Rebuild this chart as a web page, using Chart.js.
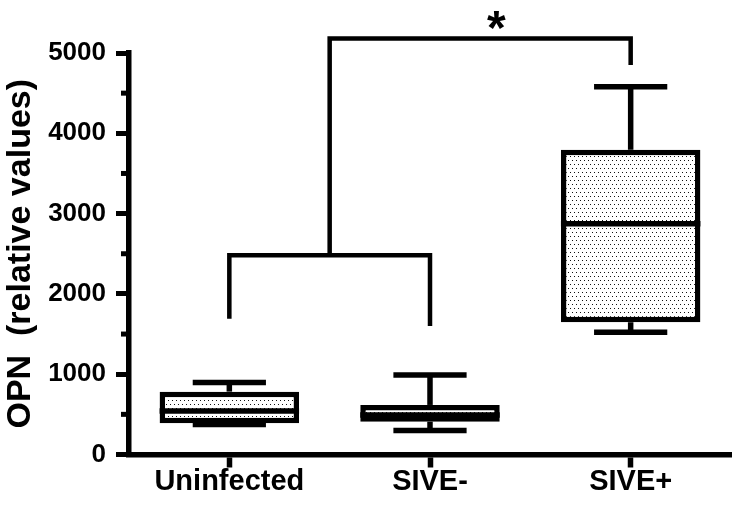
<!DOCTYPE html>
<html>
<head>
<meta charset="utf-8">
<script src="https://cdn.jsdelivr.net/npm/chart.js@4"></script>
<style>
  html, body { margin: 0; padding: 0; background: #ffffff; }
  #c { display: block; }
</style>
</head>
<body>
<canvas id="c" width="739" height="505"></canvas>
<script>
// ---- data ----
const categories = ['Uninfected', 'SIVE-', 'SIVE+'];
const whiskerMin = [374, 299, 1523];
const q1Values   = [389, 409, 1647];
const medians    = [542, 492, 2875];
const q3Values   = [783, 617, 3795];
const whiskerMax = [897, 991, 4580];
const yTickValues = [0, 1000, 2000, 3000, 4000, 5000];
const yMinorTicks = [500, 1500, 2500, 3500, 4500];
// significance brackets: [x start, x end] in category index, leg bottoms, bar level
const bracket1X = [0, 1];
const bracket1Legs = [1690, 1600];
const bracket1Level = [2480];
const bracket2X = [0.5, 2];
const bracket2Legs = [2480, 4850];
const bracket2Level = [5180];
const starLabel = ['*'];
const starPos = [1.33, 5415];

const FONT = "'Liberation Sans', Arial, sans-serif";

// dotted pattern fill for boxes
function makePattern() {
  const p = document.createElement('canvas');
  p.width = 8; p.height = 8;
  const g = p.getContext('2d');
  g.fillStyle = '#ffffff';
  g.fillRect(0, 0, 8, 8);
  g.fillStyle = '#111111';
  [[0,0],[4,0],[2,4],[6,4]].forEach(([x,y]) => g.fillRect(x, y, 1, 1));
  return g.createPattern(p, 'repeat');
}

const boxPlugin = {
  id: 'boxExtras',
  afterDatasetsDraw(chart) {
    const ctx = chart.ctx;
    const ys = chart.scales.y;
    const xs = chart.scales.x;
    const meta = chart.getDatasetMeta(0);
    ctx.save();
    ctx.strokeStyle = '#000';
    ctx.lineCap = 'butt';
    meta.data.forEach((el, i) => {
      const x = el.x, w = el.width;
      const capW = w * 0.525;
      ctx.lineWidth = 5.5;
      // upper whisker
      ctx.beginPath();
      ctx.moveTo(x, ys.getPixelForValue(q3Values[i]));
      ctx.lineTo(x, ys.getPixelForValue(whiskerMax[i]));
      ctx.stroke();
      ctx.beginPath();
      ctx.moveTo(x - capW / 2, ys.getPixelForValue(whiskerMax[i]));
      ctx.lineTo(x + capW / 2, ys.getPixelForValue(whiskerMax[i]));
      ctx.stroke();
      // lower whisker
      ctx.beginPath();
      ctx.moveTo(x, ys.getPixelForValue(q1Values[i]));
      ctx.lineTo(x, ys.getPixelForValue(whiskerMin[i]));
      ctx.stroke();
      ctx.beginPath();
      ctx.moveTo(x - capW / 2, ys.getPixelForValue(whiskerMin[i]));
      ctx.lineTo(x + capW / 2, ys.getPixelForValue(whiskerMin[i]));
      ctx.stroke();
      // median
      ctx.beginPath();
      ctx.moveTo(x - w / 2, ys.getPixelForValue(medians[i]));
      ctx.lineTo(x + w / 2, ys.getPixelForValue(medians[i]));
      ctx.stroke();
    });

    // brackets
    ctx.lineWidth = 4.5;
    ctx.lineJoin = 'miter';
    function bracket(xr, legs, level) {
      ctx.beginPath();
      ctx.moveTo(xs.getPixelForValue(xr[0]), ys.getPixelForValue(legs[0]));
      ctx.lineTo(xs.getPixelForValue(xr[0]), ys.getPixelForValue(level));
      ctx.lineTo(xs.getPixelForValue(xr[1]), ys.getPixelForValue(level));
      ctx.lineTo(xs.getPixelForValue(xr[1]), ys.getPixelForValue(legs[1]));
      ctx.stroke();
    }
    bracket(bracket1X, bracket1Legs, bracket1Level[0]);
    bracket(bracket2X, bracket2Legs, bracket2Level[0]);

    // star
    ctx.fillStyle = '#000';
    ctx.font = 'bold 48px ' + FONT;
    ctx.textAlign = 'center';
    ctx.textBaseline = 'alphabetic';
    const m = ctx.measureText(starLabel[0]);
    const A = m.actualBoundingBoxAscent, D = m.actualBoundingBoxDescent;
    const py = ys.getPixelForValue(starPos[1]);
    ctx.fillText(starLabel[0], xs.getPixelForValue(starPos[0]), py + (A - D) / 2);

    // minor y ticks
    ctx.lineWidth = 5;
    const left = chart.chartArea.left;
    yMinorTicks.forEach(v => {
      const p = ys.getPixelForValue(v);
      ctx.beginPath();
      ctx.moveTo(left - 8, p);
      ctx.lineTo(left, p);
      ctx.stroke();
    });
    ctx.restore();
  }
};

new Chart(document.getElementById('c'), {
  type: 'bar',
  data: {
    labels: categories,
    datasets: [{
      data: categories.map((_, i) => [q1Values[i], q3Values[i]]),
      backgroundColor: makePattern(),
      borderColor: '#000',
      borderWidth: 5.5,
      borderSkipped: false,
      barPercentage: 0.695,
      categoryPercentage: 1
    }]
  },
  options: {
    responsive: false,
    devicePixelRatio: 1,
    animation: false,
    events: [],
    layout: { padding: { top: 53, right: 8, left: 0, bottom: 0 } },
    plugins: { legend: { display: false }, tooltip: { enabled: false } },
    scales: {
      x: {
        type: 'category',
        offset: true,
        afterFit(scale) { scale.height = 50.5; },
        grid: { offset: false, drawOnChartArea: false, drawTicks: true, tickLength: 13, tickWidth: 5.5, tickColor: '#000' },
        border: { display: true, width: 5.5, color: '#000' },
        ticks: { color: '#000', font: { family: FONT, size: 29, weight: 'bold', lineHeight: 1 }, padding: 0, maxRotation: 0 }
      },
      y: {
        min: 0,
        max: 5000,
        afterFit(scale) { scale.width = 129; },
        afterBuildTicks(scale) { scale.ticks = yTickValues.map(v => ({ value: v })); },
        grid: { drawOnChartArea: false, drawTicks: true, tickLength: 13, tickWidth: 5, tickColor: '#000' },
        border: { display: true, width: 5.5, color: '#000' },
        ticks: { color: '#000', font: { family: FONT, size: 26, weight: 'bold' }, padding: 10, callback: v => String(v) },
        title: { display: true, text: 'OPN  (relative values)', color: '#000', font: { family: FONT, size: 34, weight: 'bold' }, padding: { top: 0, bottom: 0 } }
      }
    }
  },
  plugins: [boxPlugin]
});
</script>
</body>
</html>
